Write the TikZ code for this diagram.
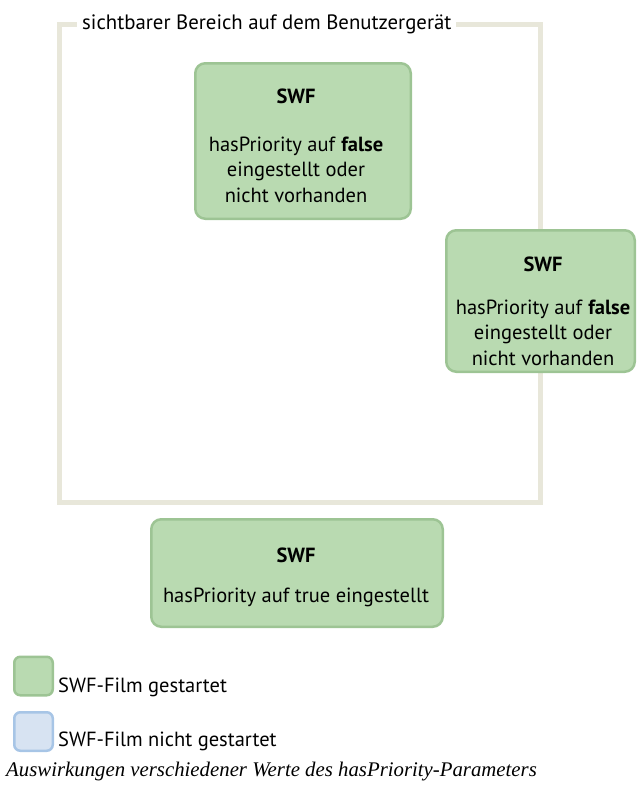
\documentclass[tikz,border=0pt]{standalone}
\usepackage{fontspec}
\setmainfont{PT Sans}
\newfontfamily\captionfont{Liberation Serif}
\definecolor{swffill}{HTML}{B9DAB1}
\definecolor{swfline}{HTML}{9DC494}
\definecolor{offfill}{HTML}{D7E3F2}
\definecolor{offline}{HTML}{A7C5E6}
\definecolor{arealine}{HTML}{E8E7DA}
\begin{document}
\begin{tikzpicture}[x=1pt, y=-1pt,
		swfbox/.style={draw=swfline, fill=swffill, line width=2.5pt, rounded corners=10pt, inner sep=0pt},
		swftext/.style={align=center, inner sep=0pt, font=\fontsize{20.5}{25.5}\selectfont},
		keybox/.style={line width=2.5pt, rounded corners=6pt, minimum size=38.5pt, inner sep=0pt},
		keytext/.style={anchor=base west, inner sep=0pt, font=\fontsize{20.5}{24}\selectfont}]
		\useasboundingbox (0,0) rectangle (637,787);
		% visible area of the device
		\draw[arealine, line width=5pt] (59.5,24.5) rectangle (540,502);
		\node[fill=white, anchor=base west, inner xsep=5pt, font=\fontsize{20.8}{24}\selectfont] (arealabel) at (77,29) {sichtbarer Bereich auf dem Benutzergerät};
		
		% swf boxes (anchor base = last line)
		\node[swfbox, minimum width=215.5pt, minimum height=155.5pt] (swfA) at (303,141) {};
		\node[swftext, anchor=base] (swfAtext) at (296,202) {\textbf{SWF}\\[22.5pt]hasPriority auf \textbf{false}\\eingestellt oder\\nicht vorhanden};
		\node[swfbox, minimum width=188.5pt, minimum height=141.5pt] (swfB) at (540.5,301) {};
		\node[swftext, anchor=base] (swfBtext) at (543,365) {\textbf{SWF}\\[17.5pt]hasPriority auf \textbf{false}\\eingestellt oder\\nicht vorhanden};
		\node[swfbox, minimum width=291.5pt, minimum height=107.5pt] (swfC) at (297,573) {};
		\node[swftext, anchor=base] (swfCtext) at (296,602) {\textbf{SWF}\\[14.5pt]hasPriority auf true eingestellt};
		
		% legend
		\node[keybox, draw=swfline, fill=swffill] (keyon) at (33.5,676) {};
		\node[keytext] (keyontext) at (58,692) {SWF-Film gestartet};
		\node[keybox, draw=offline, fill=offfill] (keyoff) at (33.5,731.5) {};
		\node[keytext] (keyofftext) at (58,746) {SWF-Film nicht gestartet};
		\node[anchor=base west, inner sep=0pt, font=\captionfont\itshape\fontsize{20.8}{24}\selectfont] (caption) at (6,776) {Auswirkungen verschiedener Werte des hasPriority-Parameters};
	\end{tikzpicture}
\end{document}
